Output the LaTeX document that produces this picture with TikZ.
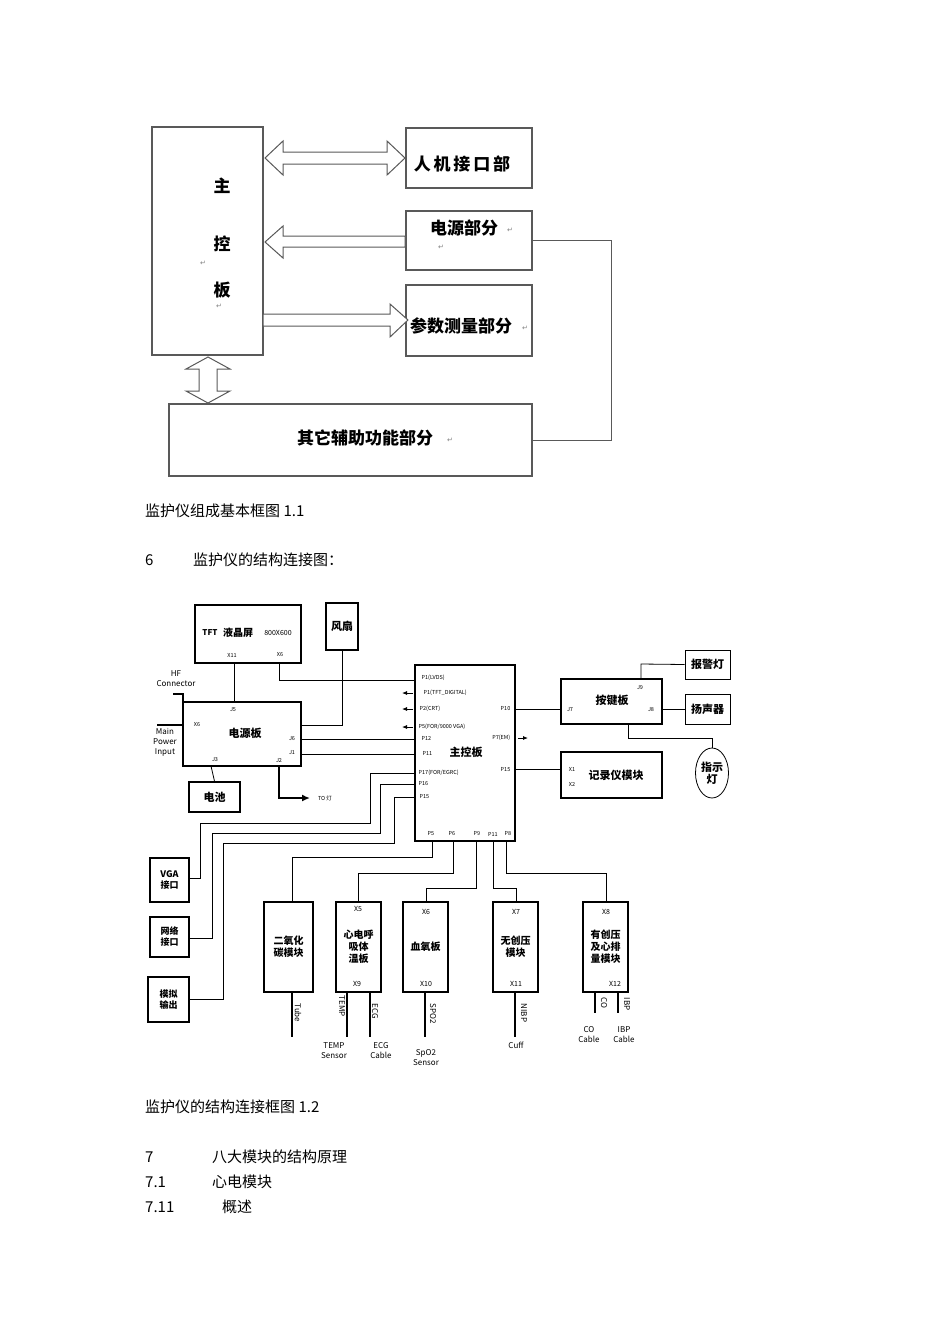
\documentclass[tikz,border=0pt]{standalone}
\usepackage{fontspec}
\setmainfont{Noto Sans CJK SC}
\newfontfamily\dv{DejaVu Sans}
\usetikzlibrary{shapes.geometric,arrows.meta}
\begin{document}
\begin{tikzpicture}[x=1pt,y=-1pt,
 tb/.style={draw=black!65,line width=1.1pt,inner sep=0pt},
 bx/.style={draw,line width=1.6pt,inner sep=0pt,font=\fontsize{11}{12}\selectfont\bfseries,align=center},
 ln/.style={line width=0.8pt},
 tk/.style={line width=2pt},
 lb/.style={font=\fontsize{5.5}{6}\selectfont,inner sep=0.5pt},
 bl/.style={font=\fontsize{8}{10}\selectfont,inner sep=0.5pt,align=center},
 captxt/.style={font=\fontsize{15}{16}\selectfont,anchor=west,inner sep=0pt},
 rt/.style={font=\fontsize{8}{9}\selectfont,rotate=-90,inner sep=0.5pt},
 ret/.style={font=\dv\fontsize{7}{7}\selectfont,text=black!50,inner sep=0pt},
 blk/.style={draw=black!65,line width=1pt,fill=white,line join=miter}]
\useasboundingbox (0,0) rectangle (950,1344);
% ---------- top diagram ----------
\node[tb,minimum width=111,minimum height=228] (mc) at (207.5,241) {};
\node[font=\fontsize{17}{18}\selectfont\bfseries] at (222,186) {主};
\node[font=\fontsize{17}{18}\selectfont\bfseries] at (222,244) {控};
\node[font=\fontsize{17}{18}\selectfont\bfseries] at (222,290) {板};
\node[ret] at (203,263) {↵};
\node[ret] at (219,306) {↵};
\node[tb,minimum width=126,minimum height=60] (hm) at (469,158) {};
\node[font=\fontsize{17}{18}\selectfont\bfseries] at (462,164) {人\,机\,接\,口\,部};
\node[tb,minimum width=126,minimum height=59] (pw) at (469,240.5) {};
\node[font=\fontsize{17}{18}\selectfont\bfseries] at (464,228) {电源部分};
\node[ret] at (510,230) {↵};\node[ret] at (441,247) {↵};
\node[tb,minimum width=126,minimum height=71] (pm) at (469,320.5) {};
\node[font=\fontsize{17}{18}\selectfont\bfseries] at (461,326) {参数测量部分};
\node[ret] at (525,328) {↵};
\node[tb,minimum width=363,minimum height=72] (ax) at (350.5,440) {};
\node[font=\fontsize{17}{18}\selectfont\bfseries] at (365,438) {其它辅助功能部分};
\node[ret] at (450,440) {↵};
\draw[blk] (265,158)--(283,141)--(283,152)--(387,152)--(387,141)--(405,158)--(387,175)--(387,164)--(283,164)--(283,175)--cycle;
\draw[blk] (265,242)--(283,226)--(283,236)--(405,236)--(405,247)--(283,247)--(283,258)--cycle;
\draw[blk] (263,314)--(390,314)--(390,304)--(408,320)--(390,337)--(390,326)--(263,326)--cycle;
\draw[blk] (208,357)--(230,369)--(217,369)--(217,391)--(230,391)--(208,403)--(186,391)--(199,391)--(199,369)--(186,369)--cycle;
\draw[draw=black!65,line width=1pt] (pw.east) -- (611,240.5) |- (ax.east);
% captions
\node[captxt] at (145,511) {监护仪组成基本框图 1.1};
\node[captxt] at (145,560) {6};
\node[captxt] at (193,560) {监护仪的结构连接图：};
\node[captxt] at (145,1107) {监护仪的结构连接框图 1.2};
\node[captxt] at (145,1157) {7};
\node[captxt] at (212,1157) {八大模块的结构原理};
\node[captxt] at (145,1182) {7.1};
\node[captxt] at (212,1182) {心电模块};
\node[captxt] at (145,1207) {7.11};
\node[captxt] at (222,1207) {概述};
% ---------- bottom diagram ----------
\node[bx,minimum width=106,minimum height=58] (tft) at (248,634) {};
\node[font=\fontsize{8}{9}\selectfont\bfseries] at (210,633) {TFT};
\node[font=\fontsize{10}{10}\selectfont\bfseries] at (238,633) {液晶屏};
\node[lb,font=\fontsize{7}{8}\selectfont] at (278,633) {800X600};
\node[lb] at (232,655) {X11};\node[lb] at (280,655) {X6};
\node[bx,minimum width=32,minimum height=47] (fan) at (342,626.5) {风扇};
\node[bx,minimum width=118,minimum height=64] (pb) at (242,734) {};
\node[font=\fontsize{11}{12}\selectfont\bfseries] at (245,733) {电源板};
\node[lb] at (233,710) {J5};\node[lb] at (197,725) {X6};\node[lb] at (292,739) {J6};
\node[lb] at (292,753) {J1};\node[lb] at (215,760) {J3};\node[lb] at (279,761) {J2};
\node[bx,minimum width=51,minimum height=30] (bat) at (214.5,797) {电池};
\node[bx,minimum width=100,minimum height=176] (mb) at (465,753) {};
\node[font=\fontsize{11}{12}\selectfont\bfseries] at (466,752) {主控板};
\node[lb,anchor=west] at (421,678) {P1(LVDS)};
\node[lb,anchor=west] at (423,693) {P1(TFT\_DIGITAL)};
\node[lb,anchor=west] at (419,709) {P2(CRT)};
\node[lb,anchor=west] at (418,727) {P5(FOR/9000 VGA)};
\node[lb,anchor=west] at (421,738) {P12};
\node[lb,anchor=west] at (422,753) {P11};
\node[lb,anchor=east] at (511,709) {P10};
\node[lb,anchor=east] at (511,738) {P7(EM)};
\node[lb,anchor=east] at (511,770) {P15};
\node[lb,anchor=west] at (418,773) {P17(FOR/EGRC)};
\node[lb,anchor=west] at (418,784) {P16};
\node[lb,anchor=west] at (419,797) {P15};
\node[lb] at (431,834) {P5};\node[lb] at (452,834) {P6};\node[lb] at (477,834) {P9};
\node[lb] at (493,834) {P11};\node[lb] at (508,834) {P8};
\foreach \y in {693,709,727} \draw[ln,-{Latex[length=5pt,width=4pt]}] (413,\y)--(402,\y);
\draw[ln,-{Latex[length=5pt,width=4pt]}] (518,738)--(528,738);
\node[bl,align=center] at (176,679) {HF\\Connector};
\node[bl,align=center] at (165,742) {Main\\Power\\Input};
% right side
\node[bx,minimum width=101,minimum height=45] (kb) at (611.5,701.5) {};
\node[font=\fontsize{11}{12}\selectfont\bfseries] at (612,700) {按键板};
\node[lb] at (570,710) {J7};\node[lb] at (651,710) {J8};\node[lb] at (640,688) {J9};
\node[draw,line width=1pt,minimum width=45,minimum height=29,font=\fontsize{11}{12}\selectfont\bfseries,inner sep=0pt] (al) at (707.5,664.5) {报警灯};
\node[draw,line width=1pt,minimum width=45,minimum height=30,font=\fontsize{11}{12}\selectfont\bfseries,inner sep=0pt] (sp) at (707.5,709) {扬声器};
\node[draw,ellipse,line width=0.8pt,minimum width=33,minimum height=50,inner sep=0pt,font=\fontsize{11}{12}\selectfont\bfseries,align=center] (ind) at (712,773) {指示\\灯};
\node[bx,minimum width=101,minimum height=46] (rec) at (611.5,775) {};
\node[font=\fontsize{11}{12}\selectfont\bfseries] at (616,775) {记录仪模块};
\node[lb] at (572,769) {X1};\node[lb] at (572,784) {X2};
% left bottom boxes
\node[bx,minimum width=39,minimum height=44,font=\fontsize{9}{11}\selectfont\bfseries] (vga) at (169.5,880) {VGA\\接口};
\node[bx,minimum width=39,minimum height=40,font=\fontsize{9}{11}\selectfont\bfseries] (net) at (169.5,937) {网络\\接口};
\node[bx,minimum width=41,minimum height=45,font=\fontsize{9}{11}\selectfont\bfseries] (ana) at (168.5,999.5) {模拟\\输出};
% modules
\tikzset{md/.style={bx,minimum width=45,minimum height=90,font=\fontsize{10}{12}\selectfont\bfseries}}
\node[md,minimum width=49] (co2) at (288.5,947) {二氧化\\碳模块};
\node[md] (ecg) at (358.5,947) {心电呼\\吸体\\温板};
\node[md] (spo) at (425.5,947) {血氧板};
\node[md] (nibp) at (515.5,947) {无创压\\模块};
\node[md] (ibp) at (605.5,947) {有创压\\及心排\\量模块};
\node[lb,font=\fontsize{7}{8}\selectfont] at (358,909) {X5};\node[lb,font=\fontsize{7}{8}\selectfont] at (357,984) {X9};
\node[lb,font=\fontsize{7}{8}\selectfont] at (426,912) {X6};\node[lb,font=\fontsize{7}{8}\selectfont] at (426,984) {X10};
\node[lb,font=\fontsize{7}{8}\selectfont] at (516,912) {X7};\node[lb,font=\fontsize{7}{8}\selectfont] at (516,984) {X11};
\node[lb,font=\fontsize{7}{8}\selectfont] at (606,912) {X8};\node[lb,font=\fontsize{7}{8}\selectfont] at (615,984) {X12};
% connectors
\draw[ln] (234,663)--(234,702);
\draw[ln] (279,663)--(279,680)--(415,680);
\draw[ln] (fan.south)--(342,725)--(301,725);
\draw[ln] (301,739)--(415,739);
\draw[ln] (301,754)--(415,754);
\draw[ln] (211,766)--(bat.north);
\draw[tk,-{Latex[length=8pt,width=7pt]}] (279,766)--(279,798)--(310,798);
\node[lb] at (325,798) {TO 灯};
\draw[tk] (173,694)--(183,694)--(183,702);
\draw[tk] (157,725)--(183,725);
\draw[ln] (515,709)--(kb.west|-0,709);
\draw[ln] (641,679)--(641,664)--(al.west);
\draw[ln] (662,709)--(sp.west);
\draw[ln] (628,724)--(628,738)--(712,738)--(ind.north);
\draw[ln] (515,769)--(rec.west|-0,769);
\draw[ln] (415,773)--(370,773)--(370,823)--(200,823)--(200,878)--(189,878);
\draw[ln] (415,784)--(380,784)--(380,833)--(212,833)--(212,938)--(189,938);
\draw[ln] (415,797)--(394,797)--(394,843)--(223,843)--(223,999)--(189,999);
\draw[ln] (432,841)--(432,857)--(292,857)--(292,902);
\draw[ln] (453,841)--(453,873)--(358,873)--(358,902);
\draw[ln] (476,841)--(476,888)--(426,888)--(426,902);
\draw[ln] (493,841)--(493,888)--(516,888)--(516,902);
\draw[ln] (506,841)--(506,873)--(606,873)--(606,902);
% cables
\draw[tk,line width=1.4pt] (292,992)--(292,1037);\node[rt,anchor=west] at (298,1003) {Tube};
\draw[tk,line width=1.4pt] (347,992)--(347,1037);\node[rt,anchor=west] at (342,995) {TEMP};
\draw[tk,line width=1.4pt] (370,992)--(370,1037);\node[rt,anchor=west] at (375,1003) {ECG};
\draw[tk,line width=1.4pt] (425,992)--(425,1037);\node[rt,anchor=west] at (433,1003) {SPO2};
\draw[tk,line width=1.4pt] (515,992)--(515,1037);\node[rt,anchor=west] at (524,1003) {NIBP};
\draw[tk,line width=1.4pt] (595,992)--(595,1013);\node[rt,anchor=west] at (604,997) {CO};
\draw[tk,line width=1.4pt] (618,992)--(618,1013);\node[rt,anchor=west] at (627,997) {IBP};
\node[bl] at (334,1051) {TEMP\\Sensor};
\node[bl] at (381,1051) {ECG\\Cable};
\node[bl] at (426,1058) {SpO2\\Sensor};
\node[bl] at (516,1045) {Cuff};
\node[bl] at (589,1035) {CO\\Cable};
\node[bl] at (624,1035) {IBP\\Cable};
\end{tikzpicture}
\end{document}
